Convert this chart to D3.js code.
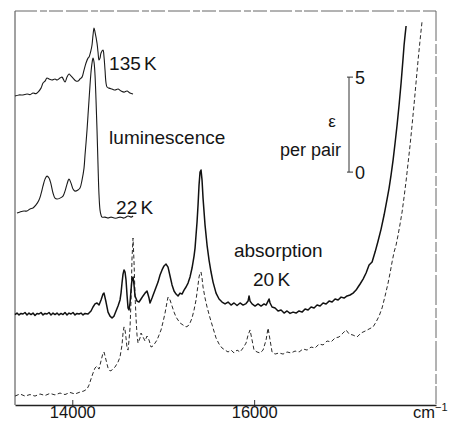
<!DOCTYPE html>
<html>
<head>
<meta charset="utf-8">
<script src="https://cdn.jsdelivr.net/npm/d3@7/dist/d3.min.js"></script>
<style>
  html, body { margin: 0; padding: 0; background: #fff; }
  svg { display: block; }
  text { font-family: "Liberation Sans", Arial, Helvetica, sans-serif; fill: #151515; }
</style>
</head>
<body>
<svg id="chart" width="450" height="422"></svg>
<script>
// Wavenumber (cm^-1) / signal pairs. Absorption is in epsilon per pair,
// the luminescence traces share the same vertical units (arbitrary intensity).
const lum135K = [
  [13370,16.26],[13414,16.32],[13458,16.32],[13502,16.37],[13535,16.34],[13568,16.42],
  [13601,16.39],[13623,16.47],[13656,16.68],[13678,16.95],[13700,17.05],[13722,17.21],
  [13744,17.16],[13777,17.11],[13810,17.16],[13832,17.11],[13865,17.21],[13887,17.26],
  [13920,17.00],[13942,17.26],[13964,17.42],[13986,17.32],[14008,17.21],[14041,17.05],
  [14063,17.05],[14085,17.16],[14107,17.26],[14129,17.63],[14151,18.00],[14173,18.26],
  [14184,18.32],[14206,18.68],[14217,18.95],[14228,19.47],[14239,19.84],[14250,19.63],
  [14272,19.05],[14283,18.58],[14294,18.16],[14305,18.26],[14316,18.53],[14338,18.68],
  [14349,18.32],[14360,17.63],[14371,16.95],[14382,16.74],[14404,16.68],[14437,16.63],
  [14470,16.58],[14503,16.63],[14536,16.53],[14569,16.47],[14602,16.53],[14635,16.42],
  [14668,16.37]
];

const lum22K = [
  [13392,10.11],[13425,10.16],[13469,10.21],[13502,10.21],[13535,10.32],[13568,10.37],
  [13601,10.53],[13634,10.79],[13656,11.11],[13678,11.53],[13700,11.89],[13722,12.05],
  [13744,11.95],[13766,11.63],[13788,11.16],[13810,10.89],[13832,10.84],[13865,10.89],
  [13898,11.00],[13920,11.26],[13942,11.63],[13964,11.89],[13986,11.68],[14008,11.37],
  [14030,11.26],[14063,11.32],[14085,11.42],[14107,11.84],[14129,12.47],[14140,13.16],
  [14151,13.79],[14162,14.47],[14173,15.26],[14184,16.05],[14195,16.84],[14206,17.53],
  [14217,18.00],[14228,18.26],[14239,18.05],[14250,17.37],[14261,16.05],[14272,14.47],
  [14283,12.63],[14294,11.05],[14305,10.26],[14316,10.00],[14327,9.89],[14360,9.89],
  [14393,9.84],[14426,9.89],[14459,9.84],[14492,9.84],[14525,9.89],[14569,9.84],
  [14613,9.95],[14646,9.89],[14668,9.95]
];

const absSolid = [
  [13370,4.76],[13392,4.84],[13414,4.74],[13436,4.82],[13458,4.79],[13480,4.87],
  [13502,4.74],[13524,4.84],[13546,4.76],[13568,4.84],[13590,4.71],[13612,4.82],
  [13634,4.79],[13656,4.87],[13678,4.74],[13700,4.82],[13722,4.79],[13744,4.87],
  [13766,4.74],[13788,4.84],[13810,4.76],[13832,4.84],[13854,4.74],[13876,4.82],
  [13898,4.76],[13920,4.87],[13942,4.74],[13964,4.84],[13986,4.79],[14008,4.87],
  [14030,4.74],[14052,4.82],[14074,4.79],[14096,4.84],[14118,4.74],[14140,4.82],
  [14173,4.79],[14206,4.95],[14228,5.16],[14250,5.32],[14272,5.37],[14294,5.26],
  [14316,5.53],[14338,5.84],[14349,5.89],[14371,5.42],[14393,4.89],[14415,4.68],
  [14437,4.58],[14459,4.68],[14481,4.95],[14503,5.21],[14525,5.53],[14536,5.89],
  [14547,6.42],[14558,6.89],[14569,7.11],[14580,7.00],[14591,6.58],[14602,5.79],
  [14613,5.11],[14624,5.00],[14635,5.37],[14646,6.05],[14657,6.63],[14668,6.74],
  [14679,6.32],[14690,5.74],[14712,5.47],[14734,5.42],[14756,5.58],[14778,5.74],
  [14800,5.89],[14822,6.00],[14844,5.63],[14855,5.37],[14877,5.63],[14910,6.05],
  [14943,6.47],[14965,6.84],[14987,7.11],[15009,7.32],[15031,7.42],[15053,7.26],
  [15075,6.79],[15097,6.32],[15119,6.00],[15141,5.84],[15163,5.74],[15185,5.89],
  [15207,5.84],[15229,6.05],[15251,6.21],[15273,6.42],[15295,6.74],[15317,7.21],
  [15339,7.84],[15350,8.26],[15361,8.95],[15372,9.63],[15383,10.53],[15394,11.58],
  [15405,12.26],[15416,12.37],[15427,11.84],[15438,10.89],[15460,9.47],[15482,8.42],
  [15504,7.63],[15526,7.00],[15548,6.47],[15581,5.89],[15614,5.58],[15647,5.42],
  [15680,5.32],[15713,5.42],[15746,5.26],[15779,5.37],[15812,5.24],[15845,5.37],
  [15878,5.26],[15911,5.34],[15933,5.47],[15944,5.74],[15955,5.47],[15977,5.32],
  [16010,5.21],[16043,5.32],[16076,5.21],[16109,5.32],[16131,5.26],[16153,5.47],
  [16164,5.58],[16175,5.37],[16197,5.16],[16230,5.11],[16263,4.95],[16296,5.00],
  [16329,4.84],[16362,4.95],[16395,4.82],[16428,4.89],[16461,4.84],[16494,4.95],
  [16527,4.89],[16560,5.05],[16593,5.00],[16626,5.16],[16659,5.11],[16692,5.26],
  [16725,5.21],[16758,5.37],[16791,5.32],[16824,5.47],[16857,5.42],[16890,5.58],
  [16923,5.53],[16956,5.68],[16989,5.63],[17022,5.74],[17055,5.79],[17088,5.89],
  [17121,6.05],[17143,6.21],[17165,6.37],[17198,6.63],[17231,6.95],[17264,7.37],
  [17297,7.53],[17330,8.05],[17363,8.63],[17396,9.26],[17429,10.00],[17462,10.84],
  [17484,11.42],[17506,12.11],[17528,12.89],[17550,13.79],[17572,14.74],[17594,15.79],
  [17616,16.95],[17638,18.26],[17649,18.95],[17660,19.47],[17671,19.95]
];

const absDashed = [
  [13370,0.47],[13425,0.58],[13480,0.47],[13535,0.55],[13590,0.47],[13645,0.58],
  [13700,0.50],[13755,0.61],[13810,0.53],[13865,0.63],[13920,0.55],[13975,0.66],
  [14030,0.58],[14085,0.68],[14129,0.74],[14162,0.84],[14184,1.05],[14206,1.37],
  [14228,1.68],[14250,1.95],[14272,2.05],[14294,1.89],[14316,2.32],[14338,2.74],
  [14349,2.79],[14371,2.37],[14393,1.95],[14415,1.79],[14437,1.84],[14470,2.00],
  [14503,2.26],[14525,2.53],[14547,3.16],[14558,3.79],[14569,4.11],[14580,3.95],
  [14591,3.53],[14602,3.00],[14613,2.89],[14624,3.42],[14635,4.05],[14646,5.53],
  [14657,7.74],[14668,8.79],[14679,7.53],[14690,5.79],[14701,4.58],[14712,3.68],
  [14723,3.26],[14745,3.53],[14756,3.79],[14778,3.58],[14800,3.37],[14822,3.63],
  [14844,3.42],[14866,3.05],[14888,3.11],[14910,3.26],[14932,3.42],[14954,3.68],
  [14976,3.95],[14998,4.37],[15020,4.84],[15042,5.42],[15053,5.68],[15075,5.53],
  [15097,5.21],[15119,4.89],[15141,4.63],[15163,4.47],[15185,4.32],[15218,4.21],
  [15251,4.11],[15273,4.16],[15295,4.32],[15317,4.58],[15339,5.00],[15361,5.53],
  [15383,6.32],[15394,6.74],[15405,6.95],[15416,7.00],[15427,6.68],[15438,6.21],
  [15460,5.63],[15482,5.16],[15515,4.58],[15548,4.05],[15581,3.53],[15614,3.21],
  [15647,3.00],[15680,2.89],[15713,2.79],[15746,2.89],[15779,2.74],[15812,2.89],
  [15845,2.79],[15878,3.00],[15911,3.26],[15933,3.68],[15955,3.95],[15977,3.42],
  [15999,2.89],[16032,2.79],[16065,2.74],[16098,2.89],[16131,3.42],[16153,4.05],
  [16175,3.42],[16197,2.79],[16230,2.68],[16274,2.74],[16318,2.68],[16362,2.79],
  [16406,2.74],[16450,2.84],[16494,2.79],[16538,2.95],[16582,2.89],[16626,3.05],
  [16670,3.00],[16714,3.21],[16758,3.16],[16802,3.37],[16846,3.32],[16890,3.53],
  [16934,3.58],[16978,3.79],[17011,3.95],[17044,3.74],[17088,3.68],[17132,3.58],
  [17176,3.79],[17220,3.89],[17264,4.00],[17308,4.11],[17341,4.37],[17374,4.68],
  [17407,5.11],[17440,5.74],[17473,6.42],[17495,6.95],[17517,7.53],[17539,8.05],
  [17561,8.42],[17583,8.95],[17605,9.53],[17627,10.16],[17649,10.95],[17671,11.79],
  [17693,12.74],[17715,13.68],[17737,14.74],[17759,15.84],[17781,17.00],[17803,18.16],
  [17825,19.21],[17847,20.21]
];

const xTicks = [14000, 16000];
const xTickLabels = ["14000", "16000"];
const unitLabel = "cm";
const unitExp = "\u22121";

// epsilon scale bar: its zero sits at this signal level, ticks at 0 and 5
const scaleBarZero = 12.26;
const scaleBarTicks = [0, 5];

const annotations = [
  { text: "135 K", wn: 14405, val: 17.63 },
  { text: "luminescence", wn: 14405, val: 13.74 },
  { text: "22 K", wn: 14482, val: 10.05 },
  { text: "absorption", wn: 15778, val: 7.79 },
  { text: "20 K", wn: 15988, val: 6.26 }
];

const W = 450, H = 422;
const frame = { left: 15, right: 436, top: 11, bottom: 405 };

const x = d3.scaleLinear().domain([13370, 18000]).range([frame.left, frame.right]);
const y = d3.scaleLinear().domain([0, 20.74]).range([frame.bottom, frame.top]);

const svg = d3.select("#chart");
svg.append("rect").attr("width", W).attr("height", H).attr("fill", "#fff");

// plot frame
const fr = svg.append("g").attr("fill", "none");
fr.append("line").attr("x1", frame.left).attr("x2", frame.left)
  .attr("y1", frame.top).attr("y2", frame.bottom)
  .attr("stroke", "#444").attr("stroke-width", 1);
fr.append("line").attr("x1", frame.left).attr("x2", frame.right)
  .attr("y1", frame.top).attr("y2", frame.top)
  .attr("stroke", "#666").attr("stroke-width", 1)
  .attr("stroke-dasharray", "22,3,7,2,14,3");
fr.append("line").attr("x1", frame.right).attr("x2", frame.right)
  .attr("y1", frame.top).attr("y2", frame.bottom)
  .attr("stroke", "#666").attr("stroke-width", 1)
  .attr("stroke-dasharray", "30,3,10,2,18,3");

// bottom axis with inward ticks
const xAxis = d3.axisBottom(x)
  .tickValues(xTicks)
  .tickFormat((d, i) => xTickLabels[i])
  .tickSizeInner(-5)
  .tickSizeOuter(0);
const ax = svg.append("g")
  .attr("transform", `translate(0,${frame.bottom})`)
  .call(xAxis);
ax.select(".domain").attr("stroke", "#222").attr("stroke-width", 1.3);
ax.selectAll(".tick line").attr("stroke", "#333");
ax.selectAll(".tick text")
  .attr("y", 13).attr("dy", null)
  .attr("font-size", 16.5)
  .attr("font-family", "Liberation Sans, Arial, sans-serif")
  .attr("fill", "#151515");

const unit = svg.append("text")
  .attr("x", 413).attr("y", frame.bottom + 13)
  .attr("font-size", 16.5);
unit.append("tspan").text(unitLabel);
unit.append("tspan").attr("dy", -7).attr("font-size", 11).text(unitExp);

// curves
const line = d3.line().x(d => x(d[0])).y(d => y(d[1]));
const smooth = d3.line().x(d => x(d[0])).y(d => y(d[1])).curve(d3.curveCatmullRom.alpha(0.5));

svg.append("path").datum(lum135K).attr("d", smooth)
  .attr("fill", "none").attr("stroke", "#1a1a1a").attr("stroke-width", 1.1)
  .attr("stroke-linejoin", "round");
svg.append("path").datum(lum22K).attr("d", smooth)
  .attr("fill", "none").attr("stroke", "#1a1a1a").attr("stroke-width", 1.1)
  .attr("stroke-linejoin", "round");
svg.append("path").datum(absDashed).attr("d", line)
  .attr("fill", "none").attr("stroke", "#2a2a2a").attr("stroke-width", 1)
  .attr("stroke-dasharray", "4,2.5");
svg.append("path").datum(absSolid).attr("d", line)
  .attr("fill", "none").attr("stroke", "#111").attr("stroke-width", 1.5)
  .attr("stroke-linejoin", "round");

// epsilon scale bar
const barX = 349;
const sb = svg.append("g");
sb.append("line").attr("x1", barX).attr("x2", barX)
  .attr("y1", y(scaleBarZero + scaleBarTicks[0]))
  .attr("y2", y(scaleBarZero + scaleBarTicks[1]))
  .attr("stroke", "#333").attr("stroke-width", 1);
sb.selectAll(".sbtick").data(scaleBarTicks).enter().append("line")
  .attr("x1", barX - 2).attr("x2", barX + 4)
  .attr("y1", d => y(scaleBarZero + d)).attr("y2", d => y(scaleBarZero + d))
  .attr("stroke", "#333").attr("stroke-width", 1);
sb.selectAll(".sblabel").data(scaleBarTicks).enter().append("text")
  .attr("x", barX + 6).attr("y", d => y(scaleBarZero + d) + 7)
  .attr("font-size", 18)
  .text(d => d);
svg.append("text").attr("x", 332).attr("y", 127)
  .attr("text-anchor", "middle").attr("font-size", 17).text("\u03b5");
svg.append("text").attr("x", 341).attr("y", 156)
  .attr("text-anchor", "end").attr("font-size", 18).text("per pair");

// annotations
svg.selectAll(".ann").data(annotations).enter().append("text")
  .attr("x", d => x(d.wn)).attr("y", d => y(d.val))
  .attr("font-size", 19)
  .attr("word-spacing", -2)
  .text(d => d.text);
</script>
</body>
</html>
